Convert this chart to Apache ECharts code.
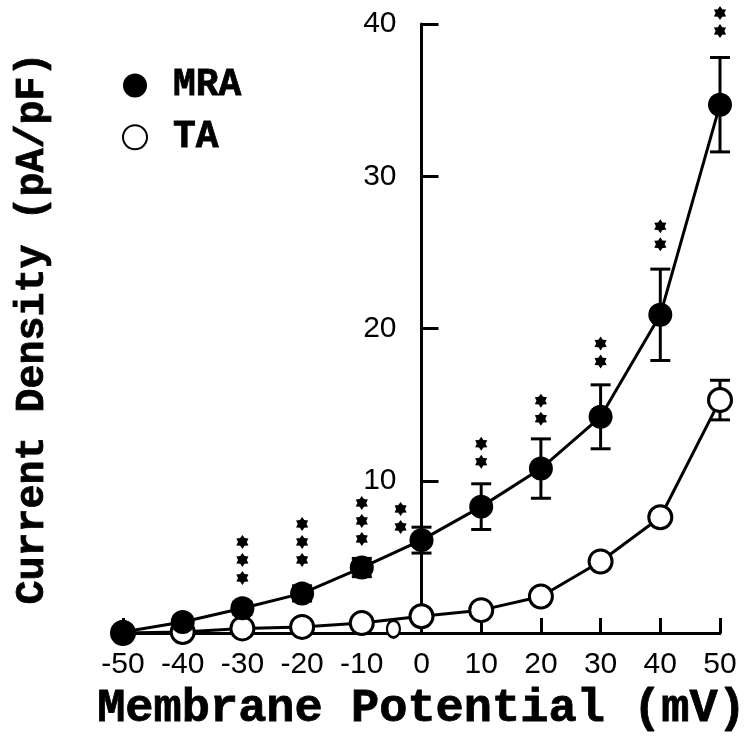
<!DOCTYPE html>
<html>
<head>
<meta charset="utf-8">
<script src="https://cdn.jsdelivr.net/npm/echarts@6/dist/echarts.min.js"></script>
<style>
html,body{margin:0;padding:0;background:#fff;}
#chart{width:746px;height:744px;}
</style>
</head>
<body>
<div id="chart"></div>
<script>
// ---- data ----
const voltages = [-50, -40, -30, -20, -10, 0, 10, 20, 30, 40, 50];
const mraMean  = [0.06, 0.72, 1.63, 2.6, 4.3, 6.1, 8.3, 10.8, 14.2, 20.9, 34.7];
const mraSem   = [0.3, 0.3, 0.4, 0.5, 0.6, 0.85, 1.5, 1.95, 2.1, 3.0, 3.1];
const taMean   = [0.0, 0.07, 0.3, 0.4, 0.65, 1.1, 1.5, 2.4, 4.7, 7.6, 15.3];
const taSem    = [0, 0, 0, 0, 0, 0, 0, 0, 0, 0.3, 1.3];
const strayMarkX = [-4.7];
const strayMarkY = [0.26];
// significance asterisks: x, count, centre of lowest asterisk (pA/pF)
const starX     = [-30, -20, -10, -3.5, 10, 20, 30, 40, 50];
const starCount = [3, 3, 3, 2, 2, 2, 2, 2, 2];
const starBase  = [3.62, 4.8, 6.18, 6.97, 11.25, 14.08, 17.83, 25.53, 39.54];
const xTickValues = [-50, -40, -30, -20, -10, 0, 10, 20, 30, 40, 50];
const xTickLabels = ['-50', '-40', '-30', '-20', '-10', '0', '10', '20', '30', '40', '50'];
const yTickValues = [0, 10, 20, 30, 40];
const yTickLabels = ['', '10', '20', '30', '40'];
const seriesNames = ['MRA', 'TA'];
const xTitle = 'Membrane Potential (mV)';
const yTitle = 'Current Density (pA/pF)';

const zip = (a, b) => a.map((v, i) => [v, b[i]]);
const errData = (m, s) => voltages.map((v, i) => [v, m[i], s[i]]);

const monoBold = {
  fontFamily: 'Liberation Mono', fontWeight: 'bold', color: '#000',
  textBorderColor: '#000', textBorderWidth: 0.8
};

function errRender(params, api) {
  const x = api.value(0), m = api.value(1), s = api.value(2);
  if (!s) return null;
  const top = api.coord([x, m + s]);
  const bot = api.coord([x, m - s]);
  const hw = 10;
  const st = { stroke: '#000', lineWidth: 3 };
  return {
    type: 'group',
    children: [
      { type: 'line', shape: { x1: top[0], y1: top[1], x2: bot[0], y2: bot[1] }, style: st },
      { type: 'line', shape: { x1: top[0] - hw, y1: top[1], x2: top[0] + hw, y2: top[1] }, style: st },
      { type: 'line', shape: { x1: bot[0] - hw, y1: bot[1], x2: bot[0] + hw, y2: bot[1] }, style: st }
    ]
  };
}

function starPoints(cx, cy) {
  const pts = [];
  const ro = 7, ri = 4.4;
  for (let k = 0; k < 12; k++) {
    const r = k % 2 === 0 ? ro : ri;
    const a = -Math.PI / 2 + k * Math.PI / 6;
    pts.push([cx + r * Math.cos(a), cy + r * Math.sin(a)]);
  }
  return pts;
}

function starRender(params, api) {
  const x = api.value(0), n = api.value(1), b = api.value(2);
  const p = api.coord([x, b]);
  const children = [];
  for (let i = 0; i < n; i++) {
    children.push({
      type: 'polygon',
      shape: { points: starPoints(p[0], p[1] - i * 18) },
      style: { fill: '#000' }
    });
  }
  return { type: 'group', children };
}

const chart = echarts.init(document.getElementById('chart'));
const gridLeft = 123, gridRight = 26;
const plotW = 746 - gridLeft - gridRight;
// y axis drawn where x = 0
const yAxisShift = -plotW * (0 - (-50)) / (50 - (-50));
chart.setOption({
  animation: false,
  backgroundColor: '#fff',
  grid: { left: gridLeft, right: gridRight, top: 24, bottom: 111, containLabel: false, outerBoundsMode: 'none' },
  legend: {
    orient: 'vertical',
    left: 117, top: 61,
    itemWidth: 24, itemHeight: 24, itemGap: 13,
    data: [{ name: seriesNames[0], icon: 'circle' }, { name: seriesNames[1], icon: 'circle' }],
    textStyle: Object.assign({}, monoBold, { fontSize: 38, lineHeight: 24, padding: [0, 0, 0, 21] })
  },
  xAxis: {
    type: 'value', min: -50, max: 50, interval: 10,
    name: xTitle, nameLocation: 'middle', nameGap: 48,
    nameTextStyle: Object.assign({}, monoBold, { fontSize: 47 }),
    axisLine: { onZero: false, lineStyle: { color: '#000', width: 3 } },
    axisTick: { inside: true, length: 15, lineStyle: { color: '#000', width: 3 } },
    splitLine: { show: false },
    axisLabel: {
      margin: 17, fontFamily: 'Liberation Sans', fontSize: 30, color: '#000',
      hideOverlap: false,
      formatter: v => { const i = xTickValues.indexOf(v); return i >= 0 ? xTickLabels[i] : ''; }
    }
  },
  yAxis: {
    type: 'value', min: 0, max: 40, interval: 10, position: 'left', offset: yAxisShift,
    name: yTitle, nameLocation: 'middle', nameGap: 369,
    nameTextStyle: Object.assign({}, monoBold, { fontSize: 40 }),
    axisLine: { onZero: false, lineStyle: { color: '#000', width: 3 } },
    axisTick: { inside: true, length: 17, lineStyle: { color: '#000', width: 3 } },
    splitLine: { show: false },
    axisLabel: {
      margin: 25, fontFamily: 'Liberation Sans', fontSize: 30, color: '#000',
      formatter: v => { const i = yTickValues.indexOf(v); return i >= 0 ? yTickLabels[i] : ''; }
    }
  },
  series: [
    {
      type: 'custom', name: 'TA err', z: 1, renderItem: errRender,
      data: errData(taMean, taSem), silent: true
    },
    {
      type: 'custom', name: 'MRA err', z: 1, renderItem: errRender,
      data: errData(mraMean, mraSem), silent: true
    },
    {
      type: 'scatter', name: 'stray', z: 2, symbol: 'circle', symbolSize: [13, 17],
      itemStyle: { color: '#fff', borderColor: '#000', borderWidth: 2.5, opacity: 1 },
      data: zip(strayMarkX, strayMarkY), silent: true
    },
    {
      type: 'line', name: seriesNames[1], z: 3,
      data: zip(voltages, taMean),
      symbol: 'circle', symbolSize: 23, showAllSymbol: true,
      lineStyle: { color: '#000', width: 3 },
      itemStyle: { color: '#fff', borderColor: '#000', borderWidth: 3 }
    },
    {
      type: 'line', name: seriesNames[0], z: 4,
      data: zip(voltages, mraMean),
      symbol: 'circle', symbolSize: 24, showAllSymbol: true,
      lineStyle: { color: '#000', width: 3 },
      itemStyle: { color: '#000', borderColor: '#000', borderWidth: 0 }
    },
    {
      type: 'custom', name: 'stars', z: 5, renderItem: starRender, clip: false,
      data: starX.map((x, i) => [x, starCount[i], starBase[i]]), silent: true
    }
  ]
});
</script>
</body>
</html>
